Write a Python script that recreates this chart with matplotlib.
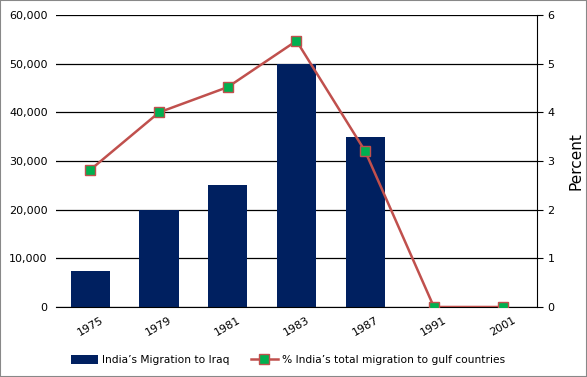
import numpy as np
import matplotlib.pyplot as plt
from matplotlib.ticker import FuncFormatter

# datos
years = ['1975', '1979', '1981', '1983', '1987', '1991', '2001']
migration_iraq = [7500, 20000, 25000, 50000, 35000, 0, 0]
pct_gulf = [2.82, 4.0, 4.52, 5.47, 3.2, 0, 0]

fig = plt.figure(figsize=(5.87, 3.77), dpi=100)
fig.patches.append(plt.Rectangle((0, 0), 1, 1, transform=fig.transFigure,
                                 fill=False, edgecolor='#888888', linewidth=1.5))
ax = fig.add_axes([0.0954, 0.1857, 0.8194, 0.7743])
x = np.arange(len(years))

# barras
ax.bar(x, migration_iraq, width=0.57, color='#002060', zorder=2,
       label='India\u2019s Migration to Iraq')
ax.set_ylim(0, 60000)
ax.set_xlim(-0.5, len(years) - 0.5)
ax.set_yticks(np.arange(0, 60001, 10000))
ax.yaxis.set_major_formatter(FuncFormatter(lambda v, p: f'{int(v):,}'))
ax.grid(axis='y', color='black', linewidth=0.9, zorder=0)
ax.set_axisbelow(True)
for s in ['top', 'left', 'right']:
    ax.spines[s].set_visible(False)
ax.spines['bottom'].set_color('black')
ax.tick_params(axis='y', length=0, labelsize=8, pad=6)
ax.tick_params(axis='x', length=0, labelsize=8, pad=6)
ax.set_xticks(x)
ax.set_xticklabels(years, rotation=30)

# linea en eje secundario
ax2 = ax.twinx()
ax2.plot(x, pct_gulf, color='#C0504D', linewidth=1.8, marker='s', markersize=7,
         markerfacecolor='#00B050', markeredgecolor='#C0504D', markeredgewidth=1,
         label='% India\u2019s total migration to gulf countries', zorder=3)
ax2.set_ylim(0, 6)
ax2.set_yticks(range(0, 7))
for s in ['top', 'left', 'bottom']:
    ax2.spines[s].set_visible(False)
ax2.spines['right'].set_color('black')
ax2.tick_params(axis='y', labelsize=8, length=4, direction='out', color='black')
ax2.set_ylabel('Percent', fontsize=11, labelpad=10)

# leyenda
h1, l1 = ax.get_legend_handles_labels()
h2, l2 = ax2.get_legend_handles_labels()
fig.legend(h1 + h2, l1 + l2, loc='center', bbox_to_anchor=(0.49, 0.045), ncol=2,
           frameon=False, fontsize=7.7, handlelength=2.6, handletextpad=0.3,
           handleheight=0.9, columnspacing=2.0)

fig.savefig('out.png', dpi=100)
